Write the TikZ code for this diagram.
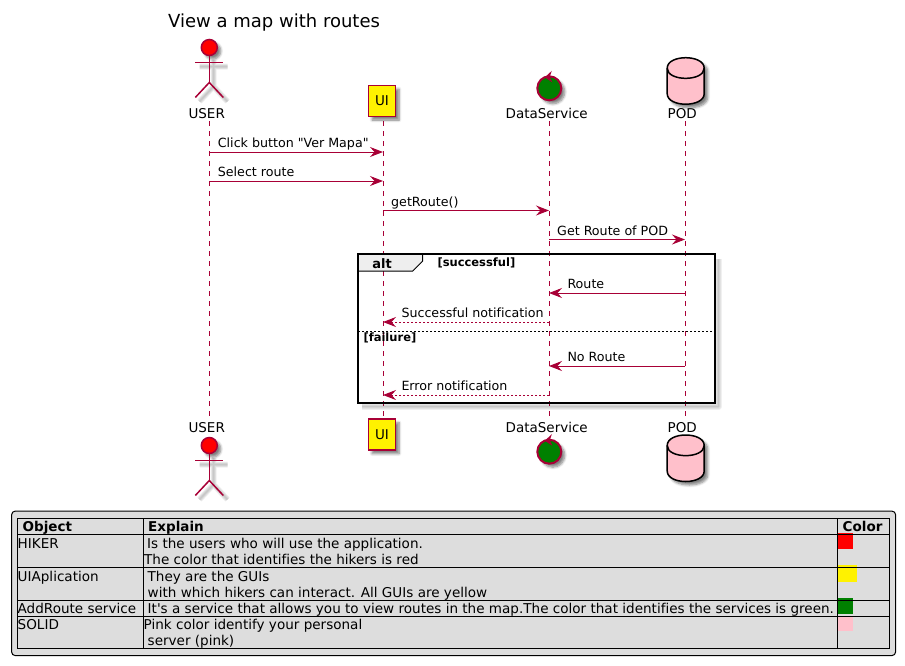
\documentclass[tikz,border=0pt]{standalone}
\usepackage{fontspec}
\setmainfont{DejaVu Sans}[Ligatures=NoCommon]
\usetikzlibrary{arrows.meta,shadows.blur}
\definecolor{seqred}{HTML}{A80036}
\definecolor{notegray}{HTML}{DDDDDD}
\definecolor{tabgray}{HTML}{EEEEEE}
\definecolor{podpink}{HTML}{FFC0CB}
\definecolor{dsgreen}{HTML}{008000}
\tikzset{
softshadow/.style={blur shadow={shadow xshift=3.5pt,shadow yshift=-3.5pt,shadow blur radius=2.5pt,shadow blur steps=6,shadow opacity=50}},
softline/.style={black,opacity=0.06,line join=round},
lifeline/.style={seqred,line width=1pt,dash pattern=on 5pt off 5pt},
call/.style={seqred,line width=1pt,-{Stealth[length=13pt,width=10pt,inset=4.5pt]}},
answer/.style={call,dash pattern=on 2pt off 2pt},
msg/.style={anchor=base west,inner sep=0pt,font=\fontsize{12.65}{15}\selectfont},
part/.style={anchor=base,inner sep=0pt,font=\fontsize{13.5}{16}\selectfont},
cell/.style={anchor=base west,inner sep=0pt,font=\fontsize{13.55}{16}\selectfont},
headcell/.style={cell,font=\fontsize{13.5}{16}\selectfont\bfseries},
guard/.style={anchor=base west,inner sep=0pt,font=\fontsize{11.5}{13}\selectfont\bfseries},
uibox/.style={draw=seqred,fill=yellow,line width=1.5pt,minimum width=27pt,minimum height=31pt,inner sep=0pt,font=\fontsize{13.5}{16}\selectfont,softshadow},
actorshade/.pic={
  \foreach \w in {6,4.5,3,1.5} {
    \draw[softline,line width=\w pt] (-14,15) -- (14,15) (0,8) -- (0,35) (-14,50) -- (0,35) -- (14,50);
  }
  },
actor/.pic={
  \draw[seqred,line width=1.5pt,fill=red,softshadow] (0,0) circle [radius=8];
  \draw[seqred,line width=1.5pt] (-14,15) -- (14,15);
  \draw[seqred,line width=1.5pt] (0,8) -- (0,35);
  \draw[seqred,line width=1.5pt] (-14,50) -- (0,35) -- (14,50);
  },
dscontrol/.pic={
  \draw[seqred,line width=2pt,fill=dsgreen,softshadow] (0,0) circle [radius=12];
  \fill[seqred] (-4.5,-11) -- (2.5,-17.5) -- (0.5,-11.5) -- (3,-6) -- cycle;
  },
poddb/.pic={
  \draw[black,line width=1.5pt,fill=podpink,softshadow] (-18.5,10.5) .. controls (-18.5,-3.5) and (18.5,-3.5) .. (18.5,10.5)
    -- (18.5,36) .. controls (18.5,50) and (-18.5,50) .. (-18.5,36) -- cycle;
  \draw[black,line width=1.5pt] (-18.5,10.5) .. controls (-18.5,24) and (18.5,24) .. (18.5,10.5);
  }
}
\begin{document}
\begin{tikzpicture}[x=1pt,y=-1pt]
  \useasboundingbox (0,0) rectangle (905,665);
  \node[anchor=base west,inner sep=0pt,font=\fontsize{18}{20}\selectfont] (title) at (168,27) {View a map with routes};

  % lifelines
  \foreach \p/\x in {user/209,ui/383,data/549,pod/685} {
    \coordinate (\p-line) at (\x,121);
    \coordinate (\p-end) at (\x,417);
    \draw[lifeline] (\p-line) -- (\p-end);
  }
  \foreach \n/\y in {1/152,2/181,3/210.5,4/239.5,5/293,6/322,7/366,8/395} {
    \coordinate (r\n) at (0,\y);
  }

  % heads and feet
  \pic at (213.5,51.5) {actorshade};
  \pic at (209.3,47.5) {actor};
  \pic at (213.5,449.5) {actorshade};
  \pic at (209.3,445.5) {actor};
  \node[part] (userhead) at (206.7,118) {USER};
  \node[part] (userfoot) at (206.7,432) {USER};
  \node[uibox] (uihead) at (382,101) {UI};
  \node[uibox] (uifoot) at (382,434.7) {UI};
  \pic at (549.3,88.3) {dscontrol};
  \pic at (549.3,451.7) {dscontrol};
  \node[part] (datahead) at (546.7,118) {DataService};
  \node[part] (datafoot) at (546.7,432) {DataService};
  \pic at (685.7,57.7) {poddb};
  \pic at (685.7,435) {poddb};
  \node[part] (podhead) at (682.3,118) {POD};
  \node[part] (podfoot) at (682.3,432) {POD};

  % alt frame
  \foreach \w in {6,4.5,3,1.5} {
    \draw[softline,line width=\w pt] (718.5,259) -- (718.5,406.5) -- (362,406.5);
  }
  \fill[tabgray] (358,254.3) -- (422.7,254.3) -- (422.7,261) -- (412.7,271) -- (358,271) -- cycle;
  \draw[line width=1pt] (422.7,254.3) -- (422.7,261) -- (412.7,271) -- (358,271);
  \draw[line width=2pt] (358,254.3) rectangle (715,403.3);
  \draw[line width=1pt,dash pattern=on 2pt off 2pt] (358,331) -- (715,331);
  \node[anchor=base,inner sep=0pt,font=\fontsize{13}{15}\selectfont\bfseries] (altname) at (382,268) {alt};
  \node[guard] (okguard) at (437.3,266.7) {[successful]};
  \node[guard] (koguard) at (363.3,341) {[failure]};

  % messages
  \draw[call] (user-line |- r1) -- (ui-line |- r1);
  \draw[call] (user-line |- r2) -- (ui-line |- r2);
  \draw[call] (ui-line |- r3) -- (data-line |- r3);
  \draw[call] (data-line |- r4) -- (pod-line |- r4);
  \draw[call] (pod-line |- r5) -- (data-line |- r5);
  \draw[answer] (data-line |- r6) -- (ui-line |- r6);
  \draw[call] (pod-line |- r7) -- (data-line |- r7);
  \draw[answer] (data-line |- r8) -- (ui-line |- r8);
  \node[msg] (m1) at (217.7,147.5) {Click button \textquotedbl Ver Mapa\textquotedbl};
  \node[msg] (m2) at (217.7,176.5) {Select route};
  \node[msg] (m3) at (391,206) {getRoute()};
  \node[msg] (m4) at (557,235) {Get Route of POD};
  \node[msg] (m5) at (567.3,288.3) {Route};
  \node[msg] (m6) at (401.3,317.3) {Successful notification};
  \node[msg] (m7) at (567.3,361) {No Route};
  \node[msg] (m8) at (401.3,390) {Error notification};

  % legend
  \draw[fill=notegray,line width=1pt,rounded corners=4pt] (11.5,511) rectangle (895.7,655.7);
  \fill[red] (837.3,533.3) rectangle (853,549.3);
  \fill[yellow] (837.3,565) rectangle (857,581.7);
  \fill[dsgreen] (837.3,598.3) rectangle (853,614.3);
  \fill[podpink] (837.3,616.7) rectangle (853,630.7);
  \draw[line width=1pt] (17,518.3) rectangle (889.3,648.3);
  \foreach \y in {534.3,567.3,600.3,616.3} {
    \draw[line width=1pt] (17,\y) -- (889.3,\y);
  }
  \foreach \x in {143.3,837.3} {
    \draw[line width=1pt] (\x,518.3) -- (\x,648.3);
  }
  \node[headcell] (objhead) at (22.5,531.7) {Object};
  \node[headcell] (exphead) at (148,531.7) {Explain};
  \node[headcell] (colhead) at (842.5,531.7) {Color};
  \node[cell] (hiker) at (17.5,548.5) {HIKER};
  \node[cell] (hikerA) at (147,548.5) {Is the users who will use the application.};
  \node[cell] (hikerB) at (144,564.5) {The color that identifies the hikers is red};
  \node[cell] (uiapp) at (17.5,581) {UIAplication};
  \node[cell] (uiappA) at (147.5,581) {They are the GUIs};
  \node[cell] (uiappB) at (147.5,597) {with which hikers can interact. All GUIs are yellow};
  \node[cell] (addroute) at (17.5,613) {AddRoute service};
  \node[cell] (addrouteA) at (147.5,613) {It\textquotesingle s a service that allows you to view routes in the map.The color that identifies the services is green.};
  \node[cell] (solid) at (17.5,629) {SOLID};
  \node[cell] (solidA) at (143.5,629) {Pink color identify your personal};
  \node[cell] (solidB) at (147.5,645.5) {server (pink)};
\end{tikzpicture}
\end{document}
